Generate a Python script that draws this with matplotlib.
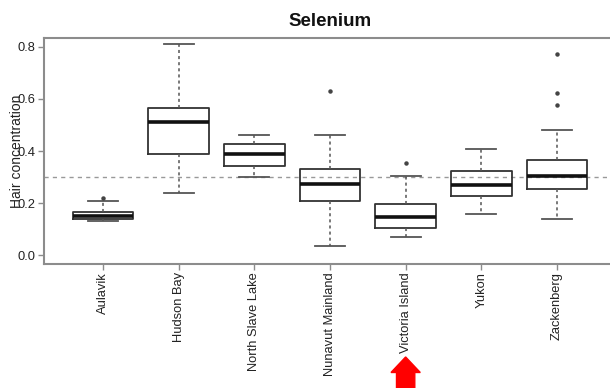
import matplotlib
matplotlib.use("Agg")
import matplotlib.pyplot as plt
from matplotlib.patches import FancyArrow

plt.rcParams['font.family'] = ['Liberation Sans', 'DejaVu Sans']

# Regions and box statistics
regions = ['Aulavik', 'Hudson Bay', 'North Slave Lake', 'Nunavut Mainland',
           'Victoria Island', 'Yukon', 'Zackenberg']
whisker_low = [0.132, 0.239, 0.300, 0.037, 0.069, 0.157, 0.139]
q1 = [0.140, 0.389, 0.343, 0.208, 0.105, 0.229, 0.254]
medians = [0.152, 0.510, 0.389, 0.274, 0.147, 0.269, 0.306]
q3 = [0.168, 0.564, 0.428, 0.332, 0.197, 0.323, 0.366]
whisker_high = [0.210, 0.810, 0.463, 0.461, 0.306, 0.407, 0.481]
outliers = [[0.222], [], [], [0.630], [0.354], [], [0.771, 0.622, 0.576]]

reference_level = 0.3
highlight = 'Victoria Island'

stats = []
for i, name in enumerate(regions):
    stats.append({'label': name, 'whislo': whisker_low[i], 'q1': q1[i],
                  'med': medians[i], 'q3': q3[i], 'whishi': whisker_high[i],
                  'fliers': outliers[i]})

fig = plt.figure(figsize=(6.1, 3.88), dpi=100)
ax = fig.add_axes([0.0721, 0.320, 0.9377, 0.582])

frame_col = '#8c8c8c'
box_col = '#333333'

ax.axhline(reference_level, color='#999999', linestyle=(0, (3, 3)), linewidth=1.0, zorder=1)

ax.bxp(stats, positions=range(1, len(regions) + 1), widths=0.8,
       boxprops=dict(color=box_col, linewidth=1.3),
       medianprops=dict(color='#111111', linewidth=2.6),
       whiskerprops=dict(color='#555555', linestyle=(0, (2, 2)), linewidth=1.1),
       capprops=dict(color='#555555', linewidth=1.3),
       flierprops=dict(marker='o', markersize=2.2, markerfacecolor='#444444',
                       markeredgecolor='#444444'),
       capwidths=0.4, zorder=2)

ax.set_xlim(0.22, 7.78)
ax.set_ylim(-0.032, 0.833)
ax.set_yticks([0.0, 0.2, 0.4, 0.6, 0.8])
ax.set_yticklabels(['0.0', '0.2', '0.4', '0.6', '0.8'])
ax.set_xticks(range(1, len(regions) + 1))
ax.set_xticklabels(regions, rotation=90)

for sp in ax.spines.values():
    sp.set_color(frame_col)
    sp.set_linewidth(1.5)

ax.tick_params(axis='both', colors=frame_col, length=4, width=1.0, labelsize=9.3,
               labelcolor='#222222', pad=2)

ax.set_title('Selenium', fontsize=13.5, fontweight='bold', color='#111111', pad=9)
ax.set_ylabel('Hair concentration', fontsize=10, color='#222222')
ax.yaxis.set_label_coords(-0.035, 0.5)

# red arrow pointing at the highlighted region
xi = regions.index(highlight) + 1
arrow_x = ax.transData.transform((xi, 0))[0] / fig.bbox.width
arrow = FancyArrow(arrow_x, -0.01, 0, 0.09, width=0.03, head_width=0.048,
                   head_length=0.04, length_includes_head=True,
                   transform=fig.transFigure, color='red', clip_on=False)
fig.patches.append(arrow)

fig.savefig('out.png', dpi=100)
